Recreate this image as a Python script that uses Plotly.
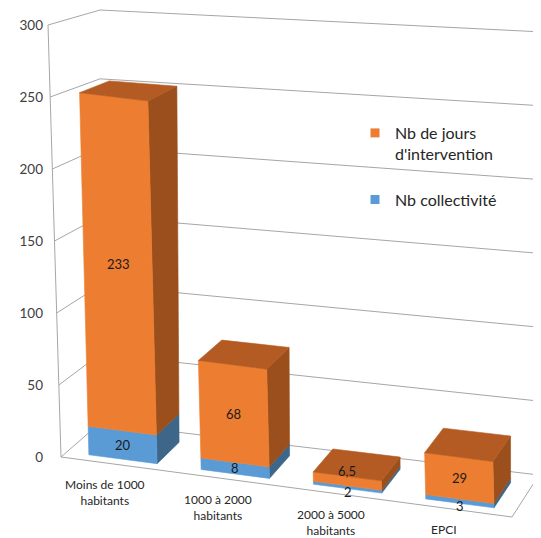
import plotly.graph_objects as go

# ---------------- data ----------------
categories = ["Moins de 1000<br>habitants", "1000 à 2000<br>habitants",
              "2000 à 5000<br>habitants", "EPCI"]
nb_collectivite = [20, 8, 2, 3]
nb_jours = [233, 68, 6.5, 29]
series_names = ["Nb de jours<br>d'intervention", "Nb collectivité"]
tick_values = [0, 50, 100, 150, 200, 250, 300]

# ---------------- styling / 3-D box geometry ----------------
PAGE_W, PAGE_H = 541, 538
OFF = 8                      # browser body margin
W, H = PAGE_W - OFF, PAGE_H - OFF
FONT = "Lato, 'Open Sans', sans-serif"
ORANGE = dict(front="#ED7D31", side="#9B4F1D", top="#B35B22")
BLUE = dict(front="#5B9BD5", side="#3D6689", top="#4A7FAF")
GRID = "#A6A6A6"
VMAX = 300.0
PX_PER_UNIT = 1.44
Y0 = 457.0                   # page pixel row of value 0 on the front-left edge
L_PAGE = 44                  # page pixel column where the plot area starts
# corner pixels (page coordinates) of the plot box, keyed by (u, v/VMAX, depth)
CORNERS = {
    (0, 0, 0): (61, 457), (0, 1, 0): (48, 25),
    (1, 0, 0): (512, 517), (1, 1, 0): (499, 85),
    (0, 0, 1): (100, 423), (0, 1, 1): (100, 10),
    (1, 0, 1): (539, 475), (1, 1, 1): (543, 32),
}
D_FRONT, D_BACK = 0.15, 0.75
HALF_W = 0.076


def proj(u, v, d):
    """trilinear projection of (category position, value, depth) to axis coords"""
    t = v / VMAX
    x = y = 0.0
    for (a, b, c), (px, py) in CORNERS.items():
        w = (u if a else 1 - u) * (t if b else 1 - t) * (d if c else 1 - d)
        x += w * px
        y += w * py
    return x, (Y0 - y) / PX_PER_UNIT


def poly(points, xs, ys):
    for p in points + points[:1]:
        x, y = proj(*p)
        xs.append(x)
        ys.append(y)
    xs.append(None)
    ys.append(None)


n = len(categories)
centers = [(i + 0.5) / n for i in range(n)]

faces = {k: ([], []) for k in ["b_side", "o_side", "b_front", "o_front", "o_top"]}
for i in range(n):
    u0, u1 = centers[i] - HALF_W, centers[i] + HALF_W
    segs = [("b", 0, nb_collectivite[i]),
            ("o", nb_collectivite[i], nb_collectivite[i] + nb_jours[i])]
    for key, lo, hi in segs:
        front = [(u0, lo, D_FRONT), (u1, lo, D_FRONT), (u1, hi, D_FRONT), (u0, hi, D_FRONT)]
        side = [(u1, lo, D_FRONT), (u1, lo, D_BACK), (u1, hi, D_BACK), (u1, hi, D_FRONT)]
        poly(front, *faces[key + "_front"])
        poly(side, *faces[key + "_side"])
        if key == "o":
            top = [(u0, hi, D_FRONT), (u1, hi, D_FRONT), (u1, hi, D_BACK), (u0, hi, D_BACK)]
            poly(top, *faces["o_top"])

fig = go.Figure()

# wall gridlines and floor outline
gx, gy = [], []
def seg(pts):
    for p in pts:
        x, y = proj(*p)
        gx.append(x)
        gy.append(y)
    gx.append(None)
    gy.append(None)

for v in tick_values:
    seg([(0, v, 0), (0, v, 1), (1, v, 1)])
seg([(0, 0, 0), (0, VMAX, 0)])
seg([(0, 0, 0), (1, 0, 0), (1, 0, 1)])
fig.add_trace(go.Scatter(x=gx, y=gy, mode="lines", line=dict(color=GRID, width=1),
                         hoverinfo="skip", showlegend=False))

face_colors = {"b_side": BLUE["side"], "o_side": ORANGE["side"],
               "b_front": BLUE["front"], "o_front": ORANGE["front"],
               "o_top": ORANGE["top"]}
for k in ["b_side", "o_side", "b_front", "o_front", "o_top"]:
    xs, ys = faces[k]
    fig.add_trace(go.Scatter(x=xs, y=ys, mode="lines", fill="toself",
                             fillcolor=face_colors[k],
                             line=dict(color=face_colors[k], width=0.6),
                             hoverinfo="skip", showlegend=False))

# legend entries
fig.add_trace(go.Scatter(x=[None], y=[None], mode="markers", name=series_names[0],
                         marker=dict(symbol="square", size=9, color=ORANGE["front"]),
                         legendgroup="o", legendrank=1))
fig.add_trace(go.Scatter(x=[None], y=[None], mode="markers", name=series_names[1],
                         marker=dict(symbol="square", size=9, color=BLUE["front"]),
                         legendgroup="b", legendrank=2))


def fmt(v):
    return f"{v:g}".replace(".", ",")

annotations = []
for i in range(n):
    c = centers[i]
    b, o = nb_collectivite[i], nb_jours[i]
    x, y = proj(c, b / 2, D_FRONT)
    annotations.append(dict(x=x, y=y, text=fmt(b), showarrow=False,
                            yshift=-5 if b < 5 else 0,
                            font=dict(family=FONT, size=13, color="#1a1a1a")))
    x, y = proj(c, b + o / 2, D_FRONT)
    annotations.append(dict(x=x, y=y, text=fmt(o), showarrow=False,
                            yshift=10 if o < 10 else 0,
                            font=dict(family=FONT, size=13, color="#1a1a1a")))
    x, y = proj(c, 0, 0)
    annotations.append(dict(x=x, y=y, text=categories[i], showarrow=False,
                            xanchor="center", yanchor="top", xshift=-12, yshift=-10,
                            font=dict(family=FONT, size=12, color="#262626")))

fig.update_layout(
    width=W, height=H,
    margin=dict(l=L_PAGE - OFF, r=0, t=0, b=0),
    paper_bgcolor="white", plot_bgcolor="white",
    xaxis=dict(range=[L_PAGE, PAGE_W], visible=False, fixedrange=True),
    yaxis=dict(range=[(Y0 - PAGE_H) / PX_PER_UNIT, (Y0 - OFF) / PX_PER_UNIT],
               tickvals=tick_values, showgrid=False, zeroline=False, showline=False,
               ticks="", tickfont=dict(family=FONT, size=13.5, color="#404040"),
               fixedrange=True),
    legend=dict(x=(355 - L_PAGE) / (PAGE_W - L_PAGE), y=1 - (116 - OFF) / H,
                xanchor="left", yanchor="top", valign="top",
                font=dict(family=FONT, size=16, color="#262626"),
                tracegroupgap=22, itemwidth=30, bgcolor="rgba(0,0,0,0)"),
    annotations=annotations,
    showlegend=True,
)

fig.write_html("out.html")
